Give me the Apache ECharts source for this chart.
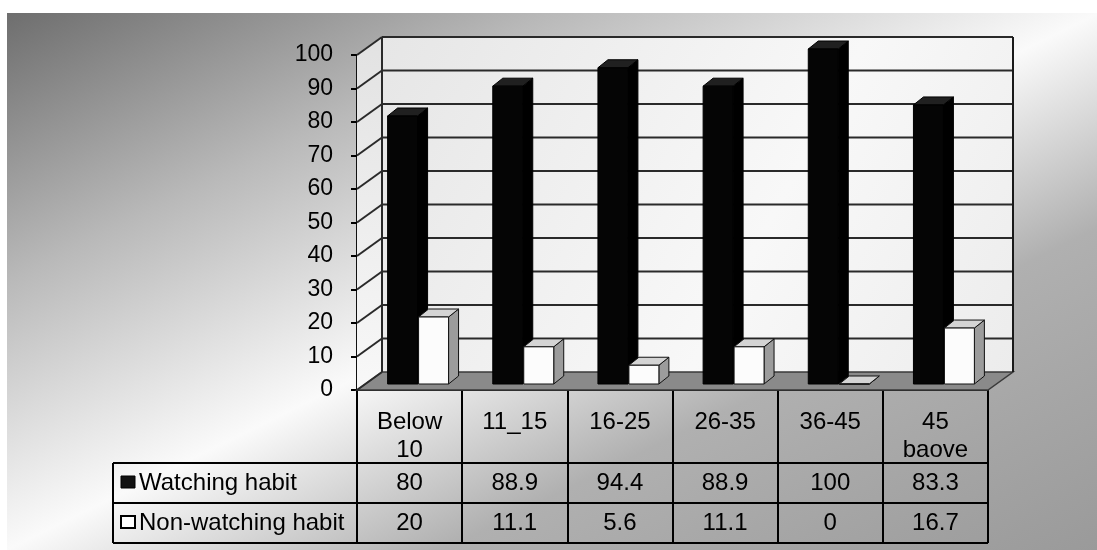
<!DOCTYPE html>
<html>
<head>
<meta charset="utf-8">
<script src="https://cdn.jsdelivr.net/npm/echarts@6/dist/echarts.min.js"></script>
<style>
  html, body { margin: 0; padding: 0; background: #ffffff; }
  #chart { width: 1097px; height: 550px; }
</style>
</head>
<body>
<div id="chart"></div>
<script>
// Age groups and the share (%) of each group with / without the habit
const categories = ['Below\n10', '11_15', '16-25', '26-35', '36-45', '45\nbaove'];
const watching = [80, 88.9, 94.4, 88.9, 100, 83.3];
const nonWatching = [20, 11.1, 5.6, 11.1, 0, 16.7];
const seriesNames = ['Watching habit', 'Non-watching habit'];
const yTicks = [0, 10, 20, 30, 40, 50, 60, 70, 80, 90, 100];

const FONT = 'Liberation Sans, Arial, Helvetica, sans-serif';
const AXIS_FONT_SIZE = 23;
const TABLE_FONT_SIZE = 24;
const DEPTH = [25, -18];     // depth of the floor and walls
const BAR_OFF = [8, -6];     // bar front plane, relative to the axis plane
const BAR_DEP = [10, -8];    // bar thickness in depth
const BAR_FRAC = 0.285;      // bar width as a share of the category band
const ROW_H = [73, 40, 40];  // data-table row heights below the floor edge
const TABLE_LEFT = 113;

const chart = echarts.init(document.getElementById('chart'), null, { renderer: 'canvas' });

function wallFill(c0, c1) {
  return new echarts.graphic.LinearGradient(0, 0, 0, 1, [
    { offset: 0, color: c0 }, { offset: 1, color: c1 }
  ]);
}

// Walls, floor and gridlines of the 3D box
function renderFrame(params, api) {
  const cs = params.coordSys;
  const xL = cs.x, xR = cs.x + cs.width;
  const dx = DEPTH[0], dy = DEPTH[1];
  const y0 = api.coord([0, yTicks[0]])[1];
  const yT = api.coord([0, yTicks[yTicks.length - 1]])[1];
  const line = { stroke: '#2a2a2a', lineWidth: 2 };
  const children = [
    { type: 'polygon', shape: { points: [[xL, y0], [xL, yT], [xL + dx, yT + dy], [xL + dx, y0 + dy]] },
      style: { fill: wallFill('#e2e2e2', '#f8f8f8') } },
    { type: 'rect', shape: { x: xL + dx, y: yT + dy, width: xR - xL, height: y0 - yT },
      style: { fill: new echarts.graphic.LinearGradient(0, 0, 1, 1, [
        { offset: 0, color: '#e6e6e6' }, { offset: 0.6, color: '#f8f8f8' }, { offset: 1, color: '#ececec' }
      ]) } },
    { type: 'polygon', shape: { points: [[xL, y0], [xL + dx, y0 + dy], [xR + dx, y0 + dy], [xR, y0]] },
      style: { fill: '#8a8a8a', stroke: '#3a3a3a', lineWidth: 1.5 } }
  ];
  yTicks.forEach(function (t) {
    const y = api.coord([0, t])[1];
    if (t !== yTicks[0]) {
      children.push({ type: 'line', shape: { x1: xL + dx, y1: y + dy, x2: xR + dx, y2: y + dy }, style: line });
    }
    children.push({ type: 'line', shape: { x1: xL, y1: y, x2: xL + dx, y2: y + dy }, style: line });
  });
  children.push({ type: 'line', shape: { x1: xL + dx, y1: yT + dy, x2: xL + dx, y2: y0 + dy }, style: line });
  children.push({ type: 'line', shape: { x1: xR + dx, y1: yT + dy, x2: xR + dx, y2: y0 + dy }, style: { stroke: '#1a1a1a', lineWidth: 2 } });
  return { type: 'group', children: children };
}

// A 3D column: side face, top face, front face
function makeBarRenderer(side, colors) {
  return function (params, api) {
    const i = api.value(0), v = api.value(1);
    const band = api.size([1, 0])[0];
    const top = api.coord([i, v]);
    const base = api.coord([i, 0]);
    const w = band * BAR_FRAC;
    const cx = top[0] + BAR_OFF[0];
    const x0 = side < 0 ? cx - w : cx + 1;
    const x1 = x0 + w;
    const yt = top[1] + BAR_OFF[1];
    const yb = base[1] + BAR_OFF[1];
    const ddx = BAR_DEP[0], ddy = BAR_DEP[1];
    const edge = { stroke: colors.edge, lineWidth: 1 };
    return {
      type: 'group',
      children: [
        { type: 'polygon', shape: { points: [[x1, yb], [x1, yt], [x1 + ddx, yt + ddy], [x1 + ddx, yb + ddy]] },
          style: Object.assign({ fill: colors.side }, edge) },
        { type: 'polygon', shape: { points: [[x0, yt], [x1, yt], [x1 + ddx, yt + ddy], [x0 + ddx, yt + ddy]] },
          style: Object.assign({ fill: colors.top }, edge) },
        { type: 'rect', shape: { x: x0, y: yt, width: w, height: yb - yt },
          style: Object.assign({ fill: colors.front }, edge) }
      ]
    };
  };
}

// Values written in the data table, one row per series
function makeRowRenderer(row) {
  const offset = ROW_H[0] + ROW_H.slice(1, row).reduce(function (a, b) { return a + b; }, 0) + ROW_H[row] / 2;
  return function (params, api) {
    const i = api.value(0), v = api.value(1);
    const p = api.coord([i, 0]);
    return {
      type: 'text', x: p[0], y: p[1] + offset,
      style: { text: String(v), align: 'center', verticalAlign: 'middle',
               fontFamily: FONT, fontSize: TABLE_FONT_SIZE, fill: '#000' }
    };
  };
}

// Table grid lines, legend keys and series names
function renderTable(params, api) {
  const cs = params.coordSys;
  const xR = cs.x + cs.width;
  const y0 = api.coord([0, 0])[1];
  const yA = y0 + ROW_H[0], yB = yA + ROW_H[1], yC = yB + ROW_H[2];
  const ln = { stroke: '#000', lineWidth: 2 };
  const children = [
    { type: 'line', shape: { x1: TABLE_LEFT, y1: yA, x2: xR, y2: yA }, style: ln },
    { type: 'line', shape: { x1: TABLE_LEFT, y1: yB, x2: xR, y2: yB }, style: ln },
    { type: 'line', shape: { x1: TABLE_LEFT, y1: yC, x2: xR, y2: yC }, style: ln },
    { type: 'line', shape: { x1: TABLE_LEFT, y1: yA, x2: TABLE_LEFT, y2: yC }, style: ln },
    { type: 'rect', shape: { x: TABLE_LEFT + 8, y: (yA + yB) / 2 - 7, width: 14, height: 12 },
      style: { fill: '#111', stroke: '#000', lineWidth: 1 } },
    { type: 'rect', shape: { x: TABLE_LEFT + 8, y: (yB + yC) / 2 - 7, width: 14, height: 12 },
      style: { fill: '#fff', stroke: '#000', lineWidth: 2 } }
  ];
  [(yA + yB) / 2, (yB + yC) / 2].forEach(function (yc, k) {
    children.push({
      type: 'text', x: TABLE_LEFT + 26, y: yc,
      style: { text: seriesNames[k], align: 'left', verticalAlign: 'middle',
               fontFamily: FONT, fontSize: TABLE_FONT_SIZE, fill: '#000' }
    });
  });
  return { type: 'group', children: children };
}

const toPairs = function (arr) { return arr.map(function (v, i) { return [i, v]; }); };

const option = {
  animation: false,
  graphic: [{
    type: 'rect', z: -100, silent: true,
    shape: { x: 7, y: 13, width: 1090, height: 537 },
    style: {
      fill: new echarts.graphic.LinearGradient(0, 0, 0.39, 1.61, [
        { offset: 0, color: '#6e6e6e' },
        { offset: 0.25, color: '#b9b9b9' },
        { offset: 0.5, color: '#fafafa' },
        { offset: 0.7, color: '#b0b0b0' },
        { offset: 1, color: '#9a9a9a' }
      ])
    }
  }],
  grid: { left: 357, right: 109, top: 55, bottom: 160 },
  xAxis: {
    type: 'category',
    data: categories,
    axisLine: { show: true, lineStyle: { color: '#111', width: 2 } },
    axisTick: { show: true, interval: 0, length: ROW_H[0] + ROW_H[1] + ROW_H[2],
                lineStyle: { color: '#000', width: 2 } },
    axisLabel: { interval: 0, margin: 18, fontFamily: FONT, fontSize: TABLE_FONT_SIZE,
                 lineHeight: 28, color: '#000', verticalAlign: 'top' },
    splitLine: { show: false }
  },
  yAxis: {
    type: 'value',
    min: yTicks[0], max: yTicks[yTicks.length - 1], interval: yTicks[1] - yTicks[0],
    axisLine: { show: true, lineStyle: { color: '#111', width: 2 } },
    axisTick: { show: true, length: 6, lineStyle: { color: '#000', width: 2 } },
    axisLabel: { margin: 24, fontFamily: FONT, fontSize: AXIS_FONT_SIZE, color: '#000' },
    splitLine: { show: false }
  },
  series: [
    { type: 'custom', name: 'frame', coordinateSystem: 'cartesian2d', clip: false, z: 1,
      silent: true, renderItem: renderFrame, data: [[0, 0]] },
    { type: 'custom', name: seriesNames[0], coordinateSystem: 'cartesian2d', clip: false, z: 3,
      renderItem: makeBarRenderer(-1, { front: '#050505', top: '#202020', side: '#000000', edge: '#000' }),
      data: toPairs(watching) },
    { type: 'custom', name: seriesNames[1], coordinateSystem: 'cartesian2d', clip: false, z: 4,
      renderItem: makeBarRenderer(1, { front: '#fcfcfc', top: '#d4d4d4', side: '#9c9c9c', edge: '#111' }),
      data: toPairs(nonWatching) },
    { type: 'custom', name: 'table', coordinateSystem: 'cartesian2d', clip: false, z: 5,
      silent: true, renderItem: renderTable, data: [[0, 0]] },
    { type: 'custom', name: 'row1', coordinateSystem: 'cartesian2d', clip: false, z: 5,
      silent: true, renderItem: makeRowRenderer(1), data: toPairs(watching) },
    { type: 'custom', name: 'row2', coordinateSystem: 'cartesian2d', clip: false, z: 5,
      silent: true, renderItem: makeRowRenderer(2), data: toPairs(nonWatching) }
  ]
};

chart.setOption(option);
</script>
</body>
</html>
